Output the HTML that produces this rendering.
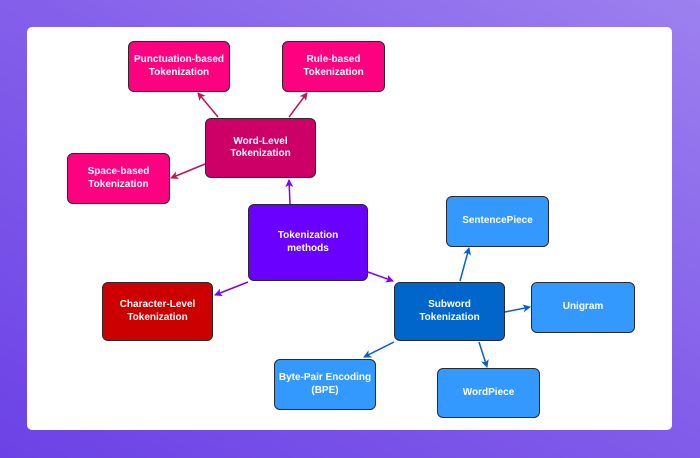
<!DOCTYPE html>
<html><head><style>
html,body{margin:0;padding:0;width:700px;height:458px;overflow:hidden;background:linear-gradient(30deg,#6c42e6 0%,#8460ea 55%,#9d80ef 100%);font-family:"Liberation Sans",sans-serif}
.card{position:absolute;left:27px;top:27px;width:645px;height:403px;background:#fff;border-radius:5px}
.b{position:absolute;box-sizing:border-box;border:1px solid #2a2a2a;border-radius:6px;color:#fff;font-weight:bold;font-size:10px;line-height:12.5px;display:flex;align-items:center;justify-content:center;text-align:center}
.p{background:#ff0080}.w{background:#cc0066}.m{background:#6a00ff}.r{background:#cc0000}.s{background:#0066cc}.l{background:#3399ff}
svg{position:absolute;left:0;top:0}
</style></head><body>
<div class="card"></div>
<svg width="700" height="458">
<defs>
<marker id="a1" markerWidth="8" markerHeight="8" refX="7" refY="4" orient="auto" markerUnits="userSpaceOnUse"><path d="M0,0 L8,4 L0,8 L2,4 z" fill="#7f00ff"/></marker>
<marker id="a2" markerWidth="8" markerHeight="8" refX="7" refY="4" orient="auto" markerUnits="userSpaceOnUse"><path d="M0,0 L8,4 L0,8 L2,4 z" fill="#c0135e"/></marker>
<marker id="a3" markerWidth="8" markerHeight="8" refX="7" refY="4" orient="auto" markerUnits="userSpaceOnUse"><path d="M0,0 L8,4 L0,8 L2,4 z" fill="#0a5fc8"/></marker>
</defs>
<g stroke-width="1.5" fill="none">
<line x1="290" y1="204" x2="289" y2="180" stroke="#7f00ff" marker-end="url(#a1)"/>
<line x1="248" y1="282" x2="215" y2="295" stroke="#7f00ff" marker-end="url(#a1)"/>
<line x1="368" y1="272" x2="393" y2="281" stroke="#7f00ff" marker-end="url(#a1)"/>
<line x1="218" y1="117" x2="198" y2="93" stroke="#c0135e" marker-end="url(#a2)"/>
<line x1="289" y1="117" x2="307" y2="93" stroke="#c0135e" marker-end="url(#a2)"/>
<line x1="205" y1="164" x2="171" y2="178" stroke="#c0135e" marker-end="url(#a2)"/>
<line x1="460" y1="281" x2="469" y2="248" stroke="#0a5fc8" marker-end="url(#a3)"/>
<line x1="505" y1="312" x2="530" y2="307" stroke="#0a5fc8" marker-end="url(#a3)"/>
<line x1="394" y1="342" x2="364" y2="357" stroke="#0a5fc8" marker-end="url(#a3)"/>
<line x1="479" y1="342" x2="487" y2="367" stroke="#0a5fc8" marker-end="url(#a3)"/>
</g>
</svg>
<div class="b p" style="left:128px;top:41px;width:102px;height:51px">Punctuation-based<br>Tokenization</div>
<div class="b p" style="left:282px;top:41px;width:103px;height:51px">Rule-based<br>Tokenization</div>
<div class="b w" style="left:205px;top:118px;width:111px;height:60px">Word-Level<br>Tokenization</div>
<div class="b p" style="left:67px;top:153px;width:103px;height:51px">Space-based<br>Tokenization</div>
<div class="b m" style="left:248px;top:204px;width:120px;height:77px">Tokenization<br>methods</div>
<div class="b r" style="left:102px;top:282px;width:111px;height:59px">Character-Level<br>Tokenization</div>
<div class="b l" style="left:446px;top:196px;width:103px;height:51px">SentencePiece</div>
<div class="b s" style="left:394px;top:282px;width:111px;height:59px">Subword<br>Tokenization</div>
<div class="b l" style="left:531px;top:282px;width:104px;height:51px">Unigram</div>
<div class="b l" style="left:274px;top:359px;width:102px;height:51px">Byte-Pair Encoding<br>(BPE)</div>
<div class="b l" style="left:437px;top:368px;width:103px;height:50px">WordPiece</div>
</body></html>
